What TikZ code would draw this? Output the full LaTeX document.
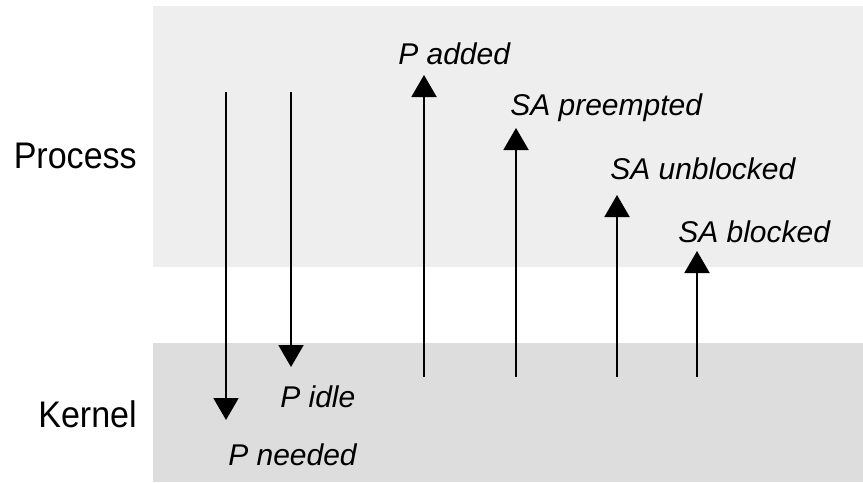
\documentclass[tikz,border=0pt]{standalone}
\usepackage{fontspec}
\setmainfont{Liberation Sans}
\newfontfamily\condfont[FakeStretch=0.92]{Liberation Sans}
\usetikzlibrary{arrows.meta}
\definecolor{procbg}{RGB}{238,238,238}
\definecolor{kernbg}{RGB}{221,221,221}
\tikzset{
  band/.style={fill=#1, draw=none},
  layerlabel/.style={anchor=base east, inner sep=0pt, font=\condfont\fontsize{27.75}{32}\selectfont},
  evlabel/.style={anchor=base west, inner sep=0pt, font=\fontsize{22.5}{27}\selectfont\itshape},
  evarrow/.style={line width=1.5pt, -{Triangle[width=18.75pt,length=16.5pt]}},
}
\begin{document}
\begin{tikzpicture}[x=0.75pt,y=-0.75pt]
\useasboundingbox (0,0) rectangle (863,482);
\fill[band=procbg] (153,6) rectangle (863,267);
\fill[band=kernbg] (153,343) rectangle (863,482);
\node[layerlabel] (process) at (137,168) {Process};
\node[layerlabel] (kernel) at (137,427) {Kernel};
% event labels
\node[evlabel] (padded) at (398,64) {P added};
\node[evlabel] (sapre) at (510,115) {SA preempted};
\node[evlabel] (saunb) at (610,179) {SA unblocked};
\node[evlabel] (sablk) at (678,242) {SA blocked};
\node[evlabel] (pidle) at (280,407) {P idle};
\node[evlabel] (pneed) at (228,465) {P needed};
% arrow end points
\coordinate (a1s) at (226,92);  \coordinate (a1e) at (226,420);
\coordinate (a2s) at (291,92);  \coordinate (a2e) at (291,367);
\coordinate (a3s) at (424,377); \coordinate (a3e) at (424,75);
\coordinate (a4s) at (516,377); \coordinate (a4e) at (516,128);
\coordinate (a5s) at (617,377); \coordinate (a5e) at (617,195);
\coordinate (a6s) at (697,377); \coordinate (a6e) at (697,251);
\draw[evarrow] (a1s) -- (a1e);
\draw[evarrow] (a2s) -- (a2e);
\draw[evarrow] (a3s) -- (a3e);
\draw[evarrow] (a4s) -- (a4e);
\draw[evarrow] (a5s) -- (a5e);
\draw[evarrow] (a6s) -- (a6e);
\end{tikzpicture}
\end{document}
